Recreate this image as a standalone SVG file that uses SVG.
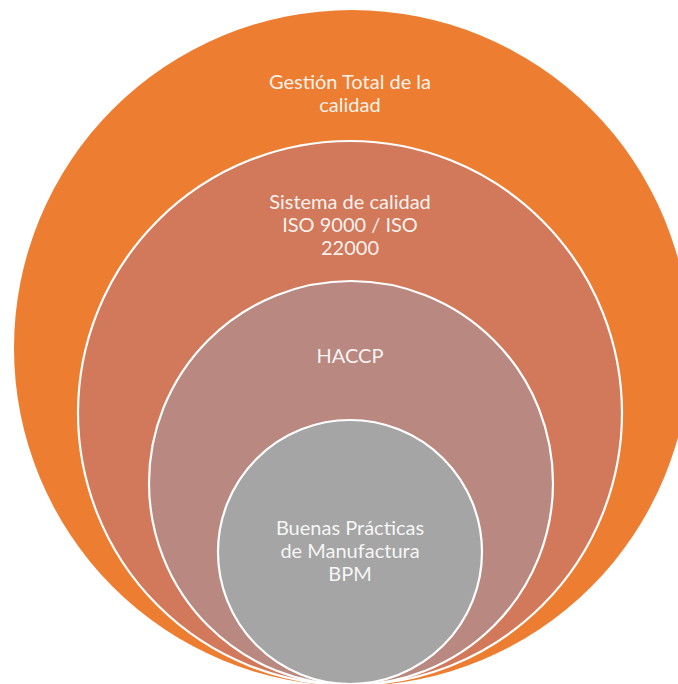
<svg xmlns="http://www.w3.org/2000/svg" width="678" height="684" viewBox="0 0 678 684">
  <style>
    .ring { stroke: #ffffff; stroke-width: 2.2; }
    .label { font-family: Lato, "Open Sans", "Liberation Sans", sans-serif; font-size: 20px; fill: #ffffff; fill-opacity: 0.92; text-anchor: middle; }
  </style>
  <rect width="678" height="684" fill="#ffffff"/>
  <!-- Nested levels, outermost first -->
  <g id="gestion-total">
    <circle cx="352" cy="348" r="338" fill="#ED7D31"/>
    <text class="label" x="350" y="89">Gestión Total de la</text>
    <text class="label" x="350" y="112">calidad</text>
  </g>
  <g id="sistema-calidad">
    <circle class="ring" cx="350" cy="413" r="272" fill="#D2795B"/>
    <text class="label" x="350" y="209">Sistema de calidad</text>
    <text class="label" x="350" y="232">ISO 9000 / ISO</text>
    <text class="label" x="350" y="255">22000</text>
  </g>
  <g id="haccp">
    <circle class="ring" cx="351" cy="483" r="202" fill="#B98981"/>
    <text class="label" x="350" y="363">HACCP</text>
  </g>
  <g id="bpm">
    <circle class="ring" cx="350" cy="552" r="132" fill="#A5A5A5"/>
    <text class="label" x="350" y="535">Buenas Prácticas</text>
    <text class="label" x="350" y="558">de Manufactura</text>
    <text class="label" x="350" y="581">BPM</text>
  </g>
  <g id="connectors"/>
</svg>
